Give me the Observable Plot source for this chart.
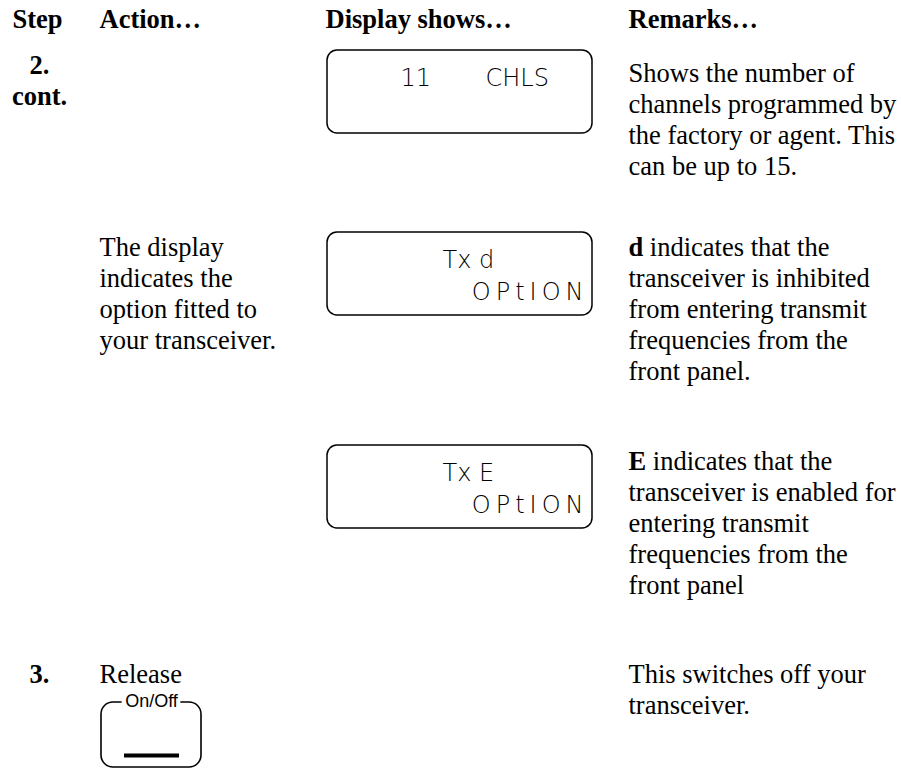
<!DOCTYPE html>
<html>
<head>
<meta charset="utf-8">
<script src="https://cdn.jsdelivr.net/npm/d3@7"></script>
<script src="https://cdn.jsdelivr.net/npm/@observablehq/plot@0.6"></script>
<style>
  html, body { margin: 0; padding: 0; background: #fff; }
  svg { display: block; }
</style>
</head>
<body>
<div id="chart"></div>
<script>
// ---------- content ----------
const columns = ["Step", "Action…", "Display shows…", "Remarks…"];
const stepLabels = [["2.", "cont."], [], [], ["3."]];
const actionLines = [
  [],
  ["The display", "indicates the", "option fitted to", "your transceiver."],
  [],
  ["Release"]
];
const displayLeft = ["11", "Tx d", "Tx E"];
const displayRight = ["CHLS", "", ""];
const displaySecond = ["", "OPtION", "OPtION"];
const remarkLead = ["", "d", "E", ""];
const remarkLines = [
  ["Shows the number of", "channels programmed by", "the factory or agent. This", "can be up to 15."],
  ["indicates that the", "transceiver is inhibited", "from entering transmit", "frequencies from the", "front panel."],
  ["indicates that the", "transceiver is enabled for", "entering transmit", "frequencies from the", "front panel"],
  ["This switches off your", "transceiver."]
];
const buttonLabel = ["On/Off"];

// ---------- layout ----------
const W = 901, H = 769;
const serif = "'Liberation Serif', 'Times New Roman', Times, serif";
const sans = "'Liberation Sans', Arial, Helvetica, sans-serif";
const lcdFont = "'DejaVu Sans', Inter, sans-serif";
const FS = 26.5;
const LCDFS = 24;
const colX = [12, 99, 325, 628];
const stepCenterX = 39;
const headerBase = 27;
const lineStep = 31;
const stepBase = [73, null, null, 682];
const actionBase = [null, 255, null, 682];
const remarkBase = [81, 255, 469, 682];
const boxX1 = 327, boxX2 = 592, boxH = 83;
const boxTops = [50, 232, 445];
const lcdLeftX = [400, 442, 442];
const lcdRightX = 485;
const lcdEndX = 583;
const lcd2Spacing = 5;
const btn = {x1: 101, x2: 201, y1: 702, y2: 767, barX1: 124, barX2: 179, barY: 755};
const btnFS = 18;

// text measurement
const ctx = document.createElement("canvas").getContext("2d");
function tw(s, weight, size = FS, fam = serif) { ctx.font = `${weight} ${size}px ${fam}`; return ctx.measureText(s).width; }

// build line records
const headers = columns.map((t, i) => ({x: colX[i], y: headerBase, t}));
const steps = stepLabels.flatMap((ls, r) => ls.map((t, j) => ({x: stepCenterX, y: stepBase[r] + j * lineStep, t})));
const actions = actionLines.flatMap((ls, r) => ls.map((t, j) => ({x: colX[1], y: actionBase[r] + j * lineStep, t})));
const leads = remarkLead.map((t, r) => ({x: colX[3], y: remarkBase[r], t})).filter(d => d.t);
const remarks = remarkLines.flatMap((ls, r) => ls.map((t, j) => ({
  x: colX[3] + (j === 0 && remarkLead[r] ? tw(remarkLead[r], "bold") + tw(" ", "normal") : 0),
  y: remarkBase[r] + j * lineStep,
  t
})));
const boxes = boxTops.map((top, i) => ({x1: boxX1, x2: boxX2, y1: top, y2: top + boxH}));
const lcdL = displayLeft.map((t, i) => ({x: lcdLeftX[i], y: boxTops[i] + 35, t}));
const lcdR = displayRight.map((t, i) => ({x: lcdRightX, y: boxTops[i] + 35, t})).filter(d => d.t);
const lcd2 = displaySecond.map((t, i) => ({x: lcdEndX + lcd2Spacing, y: boxTops[i] + 67, t})).filter(d => d.t);

const labelW = tw(buttonLabel[0], "normal", btnFS, sans);
const cx = (btn.x1 + btn.x2) / 2;
const labelGap = [{x1: cx - labelW / 2 - 3, x2: cx + labelW / 2 + 3, y1: btn.y1 - 4, y2: btn.y1 + 4}];

const textOpts = {x: "x", y: "y", text: "t", lineAnchor: "bottom", fontFamily: serif, fontSize: FS, fill: "black"};
const lcdOpts = {...textOpts, fontFamily: lcdFont, fontSize: LCDFS, fontWeight: 200};

const chart = Plot.plot({
  width: W, height: H, margin: 0,
  style: {background: "white", overflow: "visible"},
  x: {type: "linear", domain: [0, W], range: [0, W], axis: null},
  y: {type: "linear", domain: [0, H], range: [0, H], axis: null},
  marks: [
    Plot.text(headers, {...textOpts, textAnchor: "start", fontWeight: "bold"}),
    Plot.text(steps, {...textOpts, textAnchor: "middle", fontWeight: "bold"}),
    Plot.text(actions, {...textOpts, textAnchor: "start"}),
    Plot.text(leads, {...textOpts, textAnchor: "start", fontWeight: "bold"}),
    Plot.text(remarks, {...textOpts, textAnchor: "start"}),
    Plot.rect(boxes, {x1: "x1", x2: "x2", y1: "y1", y2: "y2", rx: 10, fill: "none", stroke: "black", strokeWidth: 1.5}),
    Plot.text(lcdL, {...lcdOpts, textAnchor: "start"}),
    Plot.text(lcdR, {...lcdOpts, textAnchor: "start"}),
    Plot.text(lcd2, {...lcdOpts, textAnchor: "end"}),
    Plot.rect([btn], {x1: "x1", x2: "x2", y1: "y1", y2: "y2", rx: 12, fill: "none", stroke: "black", strokeWidth: 1.6}),
    Plot.rect(labelGap, {x1: "x1", x2: "x2", y1: "y1", y2: "y2", fill: "white"}),
    Plot.ruleY([btn], {y: "barY", x1: "barX1", x2: "barX2", stroke: "black", strokeWidth: 4}),
    Plot.text(buttonLabel, {x: () => cx, y: () => btn.y1 + 4, text: d => d, lineAnchor: "bottom",
      fontFamily: sans, fontSize: btnFS, fill: "black", textAnchor: "middle"})
  ]
});
document.getElementById("chart").appendChild(chart);
d3.select(chart).selectAll("text")
  .filter(function () { return displaySecond.includes(this.textContent) && this.textContent !== ""; })
  .style("letter-spacing", lcd2Spacing + "px");
</script>
</body>
</html>
